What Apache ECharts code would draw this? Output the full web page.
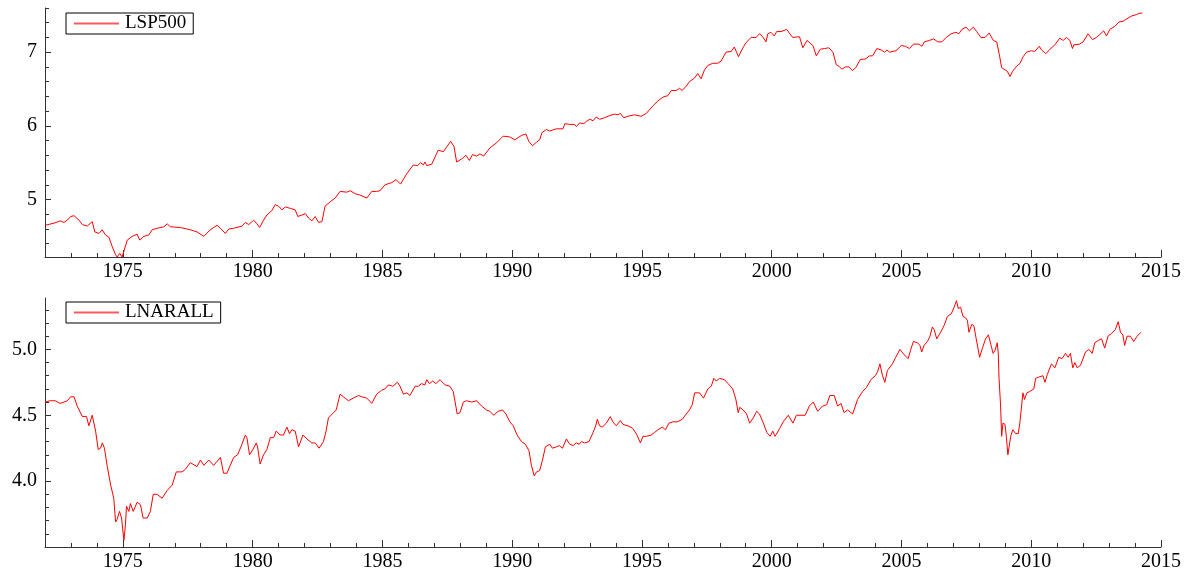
<!DOCTYPE html>
<html>
<head>
<meta charset="utf-8">
<script src="https://cdn.jsdelivr.net/npm/echarts@6/dist/echarts.min.js"></script>
<style>
html,body{margin:0;padding:0;background:#fff;}
#chart{width:1197px;height:575px;}
</style>
</head>
<body>
<div id="chart"></div>
<script>
// ---- Data ----
const lspYears = [1972.0,1972.35,1972.6,1972.73,1972.86,1972.99,1973.12,1973.31,1973.44,1973.63,1973.82,1973.92,1974.08,1974.2,1974.33,1974.46,1974.59,1974.72,1974.78,1974.88,1974.97,1975.17,1975.36,1975.55,1975.65,1975.81,1976.0,1976.13,1976.32,1976.58,1976.71,1976.83,1977.22,1977.6,1977.86,1978.12,1978.37,1978.63,1978.76,1978.95,1979.08,1979.27,1979.59,1979.72,1979.85,1980.04,1980.17,1980.27,1980.42,1980.55,1980.74,1980.87,1981.0,1981.13,1981.26,1981.45,1981.64,1981.74,1981.9,1982.03,1982.15,1982.28,1982.41,1982.54,1982.67,1982.79,1982.99,1983.18,1983.37,1983.63,1983.76,1983.95,1984.14,1984.4,1984.59,1984.78,1984.91,1985.1,1985.36,1985.53,1985.7,1985.94,1986.19,1986.35,1986.47,1986.58,1986.64,1986.71,1986.9,1987.15,1987.35,1987.63,1987.76,1987.86,1988.05,1988.22,1988.35,1988.47,1988.63,1988.76,1988.9,1989.14,1989.4,1989.65,1989.91,1990.1,1990.36,1990.53,1990.64,1990.78,1990.94,1991.06,1991.15,1991.32,1991.45,1991.7,1991.96,1992.03,1992.22,1992.41,1992.47,1992.6,1992.76,1992.86,1992.99,1993.12,1993.24,1993.37,1993.56,1993.76,1993.95,1994.08,1994.17,1994.3,1994.46,1994.72,1994.97,1995.17,1995.42,1995.62,1995.81,1996.0,1996.13,1996.32,1996.45,1996.55,1996.71,1996.83,1997.03,1997.15,1997.28,1997.41,1997.54,1997.73,1997.92,1998.05,1998.24,1998.44,1998.56,1998.72,1998.86,1999.01,1999.21,1999.4,1999.53,1999.65,1999.78,1999.85,1999.97,2000.1,2000.19,2000.36,2000.58,2000.68,2000.81,2001.07,2001.2,2001.36,2001.59,2001.72,2001.87,2002.04,2002.2,2002.36,2002.49,2002.59,2002.7,2002.85,2002.98,2003.11,2003.24,2003.41,2003.63,2003.76,2003.89,2004.05,2004.22,2004.35,2004.44,2004.54,2004.79,2004.99,2005.15,2005.31,2005.46,2005.67,2005.79,2005.88,2006.08,2006.24,2006.4,2006.56,2006.72,2006.91,2007.1,2007.21,2007.33,2007.49,2007.62,2007.77,2007.9,2008.06,2008.22,2008.38,2008.54,2008.67,2008.77,2008.86,2008.99,2009.08,2009.18,2009.28,2009.44,2009.57,2009.69,2009.82,2010.01,2010.14,2010.31,2010.4,2010.56,2010.72,2010.91,2011.1,2011.23,2011.36,2011.49,2011.59,2011.64,2011.87,2012.0,2012.19,2012.36,2012.51,2012.64,2012.79,2012.9,2013.03,2013.22,2013.38,2013.54,2013.67,2013.86,2014.05,2014.18,2014.28];
const lspValues = [4.65,4.68,4.71,4.69,4.72,4.77,4.78,4.72,4.66,4.64,4.70,4.56,4.54,4.59,4.52,4.49,4.36,4.25,4.22,4.27,4.22,4.45,4.50,4.53,4.45,4.50,4.52,4.59,4.61,4.63,4.67,4.63,4.62,4.59,4.56,4.50,4.59,4.65,4.61,4.54,4.60,4.61,4.64,4.69,4.66,4.72,4.67,4.62,4.72,4.79,4.85,4.93,4.91,4.86,4.90,4.88,4.86,4.77,4.79,4.81,4.75,4.71,4.77,4.69,4.70,4.91,4.97,5.02,5.11,5.10,5.12,5.08,5.06,5.02,5.11,5.11,5.12,5.20,5.23,5.27,5.21,5.35,5.47,5.46,5.50,5.47,5.51,5.46,5.48,5.67,5.65,5.79,5.72,5.51,5.55,5.60,5.53,5.61,5.59,5.62,5.59,5.70,5.77,5.86,5.85,5.81,5.87,5.89,5.79,5.73,5.78,5.81,5.91,5.95,5.93,5.96,5.96,6.03,6.02,6.02,5.99,6.04,6.03,6.06,6.09,6.07,6.12,6.09,6.11,6.14,6.16,6.15,6.17,6.11,6.13,6.15,6.13,6.17,6.27,6.34,6.39,6.41,6.48,6.48,6.51,6.48,6.54,6.60,6.65,6.71,6.64,6.76,6.82,6.85,6.85,6.88,7.00,7.01,7.07,6.94,7.04,7.13,7.20,7.20,7.25,7.21,7.14,7.25,7.27,7.22,7.28,7.28,7.31,7.26,7.20,7.21,7.06,7.16,7.09,6.95,7.04,7.05,7.06,7.00,6.83,6.81,6.77,6.80,6.80,6.75,6.79,6.90,6.91,6.95,6.95,7.05,7.03,7.00,7.03,7.00,7.02,7.09,7.08,7.05,7.11,7.11,7.08,7.14,7.16,7.18,7.14,7.14,7.20,7.25,7.27,7.25,7.31,7.34,7.29,7.34,7.28,7.20,7.20,7.26,7.16,7.14,6.97,6.79,6.76,6.74,6.67,6.74,6.81,6.85,6.94,7.00,7.02,7.01,7.08,7.03,6.98,7.04,7.10,7.19,7.16,7.20,7.16,7.05,7.10,7.11,7.14,7.25,7.17,7.20,7.24,7.29,7.22,7.31,7.35,7.41,7.42,7.45,7.49,7.51,7.53,7.53];

const narYears = [1972.0,1972.2,1972.4,1972.58,1972.73,1972.86,1972.99,1973.12,1973.24,1973.44,1973.6,1973.69,1973.82,1973.88,1973.95,1974.05,1974.14,1974.21,1974.29,1974.4,1974.53,1974.65,1974.72,1974.78,1974.87,1974.95,1975.04,1975.1,1975.14,1975.23,1975.29,1975.4,1975.55,1975.68,1975.78,1975.94,1976.06,1976.17,1976.32,1976.51,1976.71,1976.9,1977.06,1977.28,1977.41,1977.6,1977.86,1977.99,1978.12,1978.31,1978.5,1978.76,1978.88,1979.01,1979.14,1979.27,1979.42,1979.55,1979.72,1979.78,1979.88,1980.01,1980.14,1980.19,1980.29,1980.42,1980.55,1980.68,1980.81,1980.91,1981.06,1981.19,1981.32,1981.42,1981.51,1981.64,1981.77,1981.94,1982.09,1982.28,1982.41,1982.56,1982.73,1982.83,1982.92,1983.12,1983.22,1983.37,1983.5,1983.69,1983.88,1984.08,1984.21,1984.4,1984.59,1984.78,1984.97,1985.1,1985.23,1985.4,1985.58,1985.68,1985.81,1985.94,1986.06,1986.26,1986.38,1986.51,1986.64,1986.71,1986.81,1986.94,1987.06,1987.22,1987.42,1987.6,1987.73,1987.83,1987.88,1987.99,1988.12,1988.24,1988.44,1988.63,1988.82,1989.01,1989.14,1989.29,1989.46,1989.63,1989.76,1989.91,1990.04,1990.19,1990.36,1990.51,1990.65,1990.74,1990.85,1990.94,1991.06,1991.17,1991.28,1991.45,1991.55,1991.71,1991.81,1991.94,1992.09,1992.22,1992.35,1992.47,1992.58,1992.67,1992.79,1992.96,1993.12,1993.22,1993.28,1993.37,1993.47,1993.63,1993.78,1993.88,1994.01,1994.17,1994.27,1994.46,1994.65,1994.81,1994.94,1995.04,1995.17,1995.36,1995.49,1995.62,1995.78,1995.91,1996.04,1996.19,1996.37,1996.56,1996.71,1996.83,1996.94,1997.03,1997.22,1997.37,1997.54,1997.67,1997.77,1997.86,1997.99,1998.18,1998.32,1998.5,1998.62,1998.71,1998.77,1998.9,1999.03,1999.15,1999.29,1999.42,1999.53,1999.68,1999.81,1999.94,2000.04,2000.13,2000.31,2000.44,2000.64,2000.82,2000.95,2001.09,2001.29,2001.45,2001.6,2001.77,2001.96,2002.12,2002.24,2002.41,2002.54,2002.67,2002.79,2002.92,2003.12,2003.31,2003.5,2003.65,2003.82,2003.99,2004.08,2004.17,2004.27,2004.36,2004.46,2004.65,2004.78,2004.94,2005.1,2005.26,2005.36,2005.46,2005.62,2005.71,2005.78,2005.87,2006.0,2006.1,2006.19,2006.26,2006.36,2006.51,2006.64,2006.77,2006.92,2007.03,2007.12,2007.19,2007.28,2007.37,2007.47,2007.54,2007.6,2007.71,2007.79,2007.88,2008.01,2008.12,2008.24,2008.35,2008.44,2008.53,2008.6,2008.69,2008.73,2008.76,2008.82,2008.86,2008.91,2008.99,2009.04,2009.1,2009.14,2009.21,2009.29,2009.4,2009.5,2009.56,2009.68,2009.74,2009.83,2009.94,2010.1,2010.17,2010.29,2010.45,2010.53,2010.62,2010.78,2010.91,2011.06,2011.19,2011.32,2011.42,2011.51,2011.6,2011.68,2011.77,2011.9,2012.09,2012.22,2012.35,2012.45,2012.6,2012.71,2012.83,2012.96,2013.09,2013.24,2013.35,2013.44,2013.53,2013.6,2013.69,2013.82,2013.95,2014.08,2014.23];
const narValues = [4.60,4.61,4.61,4.59,4.60,4.61,4.64,4.64,4.57,4.49,4.49,4.42,4.50,4.49,4.38,4.24,4.25,4.29,4.25,4.11,3.97,3.87,3.69,3.71,3.77,3.72,3.55,3.67,3.81,3.77,3.83,3.77,3.84,3.82,3.72,3.72,3.77,3.90,3.90,3.87,3.93,3.97,4.07,4.07,4.09,4.14,4.11,4.16,4.12,4.16,4.12,4.18,4.06,4.06,4.12,4.18,4.20,4.26,4.35,4.33,4.20,4.24,4.29,4.26,4.13,4.20,4.24,4.33,4.33,4.38,4.35,4.35,4.41,4.36,4.39,4.38,4.26,4.35,4.32,4.29,4.29,4.25,4.30,4.38,4.48,4.52,4.54,4.66,4.64,4.61,4.63,4.65,4.64,4.63,4.59,4.66,4.69,4.70,4.73,4.72,4.75,4.72,4.66,4.67,4.65,4.72,4.72,4.74,4.73,4.77,4.74,4.76,4.74,4.77,4.73,4.72,4.68,4.57,4.51,4.52,4.60,4.61,4.60,4.61,4.57,4.54,4.53,4.50,4.53,4.54,4.51,4.45,4.42,4.35,4.30,4.28,4.23,4.12,4.04,4.07,4.08,4.16,4.26,4.28,4.25,4.26,4.27,4.25,4.32,4.28,4.27,4.29,4.28,4.30,4.29,4.30,4.37,4.42,4.47,4.42,4.41,4.44,4.49,4.45,4.42,4.46,4.43,4.42,4.40,4.35,4.29,4.34,4.34,4.35,4.37,4.39,4.41,4.39,4.44,4.45,4.45,4.47,4.51,4.54,4.58,4.67,4.67,4.63,4.70,4.72,4.78,4.76,4.78,4.77,4.74,4.70,4.62,4.52,4.56,4.54,4.51,4.44,4.48,4.53,4.51,4.44,4.37,4.34,4.38,4.34,4.40,4.45,4.50,4.44,4.50,4.50,4.50,4.57,4.60,4.53,4.57,4.58,4.65,4.65,4.57,4.59,4.52,4.54,4.51,4.62,4.68,4.71,4.77,4.80,4.83,4.89,4.80,4.75,4.84,4.89,4.94,5.00,4.96,4.93,5.00,5.06,5.05,5.03,4.98,5.03,5.06,5.10,5.17,5.15,5.08,5.13,5.18,5.25,5.27,5.32,5.37,5.31,5.32,5.25,5.24,5.22,5.13,5.19,5.18,5.08,4.94,5.01,5.08,5.11,5.04,4.97,4.99,5.05,4.97,4.78,4.57,4.34,4.44,4.43,4.34,4.20,4.19,4.34,4.39,4.36,4.36,4.44,4.67,4.62,4.67,4.68,4.70,4.78,4.79,4.80,4.75,4.81,4.89,4.86,4.94,4.93,4.97,4.94,4.97,4.86,4.90,4.86,4.88,4.98,5.00,4.97,5.05,5.07,5.08,5.01,5.10,5.12,5.15,5.21,5.13,5.11,5.03,5.10,5.10,5.06,5.10,5.13];

const xTickLabels = [1975,1980,1985,1990,1995,2000,2005,2010,2015];
const topYTicks = [5,6,7];
const bottomYTicks = [4.0,4.5,5.0];
const seriesNames = ['LSP500','LNARALL'];

// ---- minor tick positions ----
const minorYears = [];
for (let y = 1973; y <= 2014; y++) minorYears.push(y);
const topMinor = [];
for (let k = 22; k <= 38; k++) topMinor.push(+(k*0.2).toFixed(1));
const bottomMinor = [];
for (let k = 36; k <= 53; k++) bottomMinor.push(+(k*0.1).toFixed(1));

const FONT = 'Liberation Serif';
const AX = '#333';
const X_MIN = 1972, X_MAX = 2015;

function xAxes(g) {
  return [
    { type:'value', gridIndex:g, position:'bottom', min:X_MIN, max:X_MAX,
      axisLine:{show:true, onZero:false, lineStyle:{color:AX, width:1}},
      axisTick:{show:true, inside:true, length:7, customValues:xTickLabels, lineStyle:{color:AX}},
      axisLabel:{customValues:xTickLabels, formatter:v => String(Math.round(v)),
                 fontFamily:FONT, fontSize:20, color:'#000', margin:5},
      splitLine:{show:false} },
    { type:'value', gridIndex:g, position:'bottom', min:X_MIN, max:X_MAX,
      axisLine:{show:false, onZero:false},
      axisTick:{show:true, inside:true, length:4, customValues:minorYears, lineStyle:{color:AX}},
      axisLabel:{show:false}, splitLine:{show:false} }
  ];
}
function yAxes(g, min, max, major, minor, fmt) {
  return [
    { type:'value', gridIndex:g, position:'left', min:min, max:max,
      axisLine:{show:true, onZero:false, lineStyle:{color:AX, width:1}},
      axisTick:{show:true, inside:true, length:6, customValues:major, lineStyle:{color:AX}},
      axisLabel:{customValues:major, formatter:fmt, fontFamily:FONT, fontSize:20, color:'#000', margin:8},
      splitLine:{show:false} },
    { type:'value', gridIndex:g, position:'left', min:min, max:max,
      axisLine:{show:false, onZero:false},
      axisTick:{show:true, inside:true, length:4, customValues:minor, lineStyle:{color:AX}},
      axisLabel:{show:false}, splitLine:{show:false} }
  ];
}

const chart = echarts.init(document.getElementById('chart'), null, {renderer:'canvas'});
const legendBase = {
  orient:'horizontal', left:66, borderColor:'#000', borderWidth:1,
  padding:[1,7,1,8], itemWidth:45, itemHeight:2, itemGap:6,
  icon:'rect',
  itemStyle:{color:'#ff5a5a'},
  textStyle:{fontFamily:FONT, fontSize:19, color:'#000', padding:[0,0,0,1]}
};
chart.setOption({
  animation:false,
  backgroundColor:'#fff',
  grid:[
    {left:45, width:1116, top:8, height:249},
    {left:45, width:1116, top:298, height:249}
  ],
  legend:[
    Object.assign({}, legendBase, {top:13, data:[seriesNames[0]]}),
    Object.assign({}, legendBase, {top:302, data:[seriesNames[1]]})
  ],
  xAxis:[].concat(xAxes(0), xAxes(1)),
  yAxis:[].concat(
    yAxes(0, 4.22, 7.6, topYTicks, topMinor, v => String(Math.round(v))),
    yAxes(1, 3.5, 5.39, bottomYTicks, bottomMinor, v => v.toFixed(1))
  ),
  series:[
    { name:seriesNames[0], type:'line', xAxisIndex:0, yAxisIndex:0,
      data: lspYears.map((t,i)=>[t, lspValues[i]]),
      symbol:'none', showSymbol:false, lineStyle:{color:'#ff0000', width:1}, itemStyle:{color:'#ff0000'} },
    { name:seriesNames[1], type:'line', xAxisIndex:2, yAxisIndex:2,
      data: narYears.map((t,i)=>[t, narValues[i]]),
      symbol:'none', showSymbol:false, lineStyle:{color:'#ff0000', width:1}, itemStyle:{color:'#ff0000'} }
  ]
});
</script>
</body>
</html>
